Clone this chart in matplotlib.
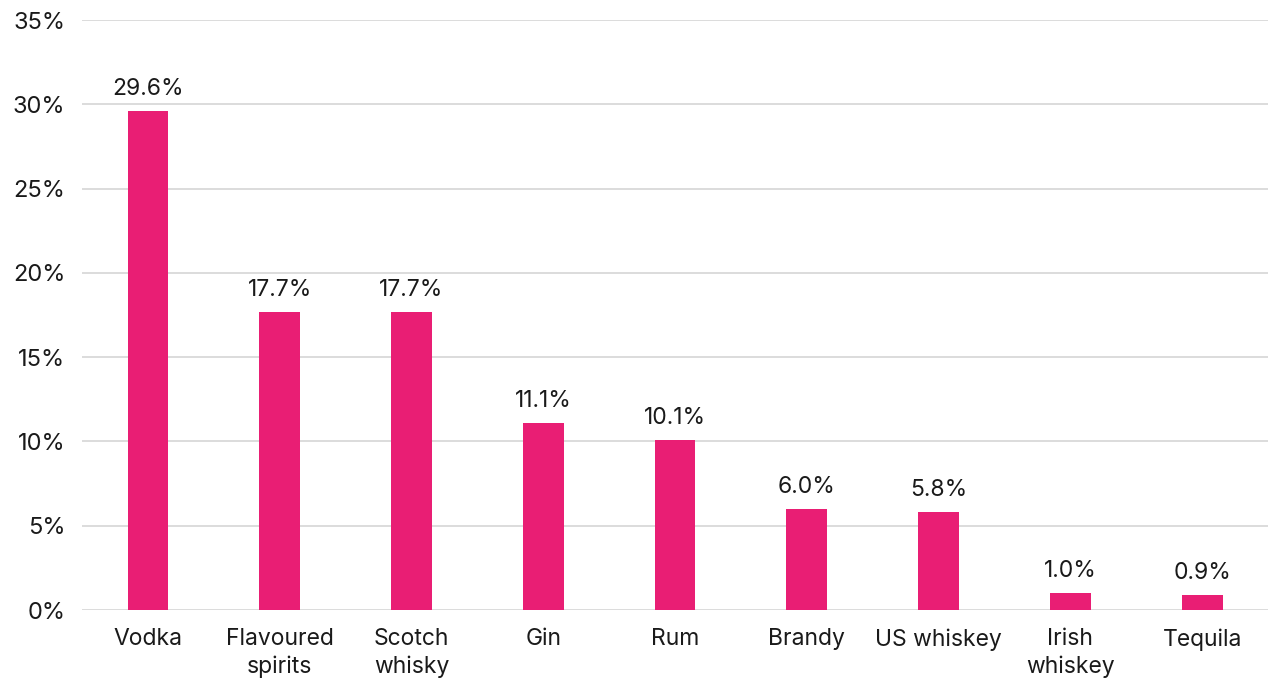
import matplotlib
matplotlib.use("Agg")
import matplotlib.pyplot as plt
from matplotlib.ticker import FuncFormatter, MultipleLocator

categories = ["Vodka", "Flavoured\nspirits", "Scotch\nwhisky", "Gin", "Rum", "Brandy",
              "US whiskey", "Irish\nwhiskey", "Tequila"]
values = [29.6, 17.7, 17.7, 11.1, 10.1, 6.0, 5.8, 1.0, 0.9]

plt.rcParams['font.family'] = ['Inter', 'DejaVu Sans']

fig = plt.figure(figsize=(12.68, 6.79), dpi=100)
ax = fig.add_axes([0.0647, 0.1016, 0.9353, 0.8689])

bar_color = "#E91E74"
x = list(range(len(categories)))
ax.bar(x, values, width=0.31, color=bar_color, zorder=3)

for xi, v in zip(x, values):
    ax.text(xi, v + 0.65, f"{v:.1f}%", ha="center", va="bottom", fontsize=16.5, color="#1a1a1a")

ax.set_xlim(-0.5, len(categories) - 0.5)
ax.set_ylim(0, 35)
ax.yaxis.set_major_locator(MultipleLocator(5))
ax.yaxis.set_major_formatter(FuncFormatter(lambda v, p: f"{v:.0f}%"))
ax.grid(axis="y", color="#d9d9d9", linewidth=1.3, zorder=0)
ax.set_axisbelow(True)
for s in ax.spines.values():
    s.set_visible(False)
ax.set_xticks(x)
ax.set_xticklabels(categories, fontsize=16.5, color="#1a1a1a", linespacing=1.3)
ax.tick_params(axis="y", labelsize=17, colors="#1a1a1a", length=0, pad=12)
ax.tick_params(axis="x", length=0, pad=13)

fig.savefig("out.png", dpi=100)
